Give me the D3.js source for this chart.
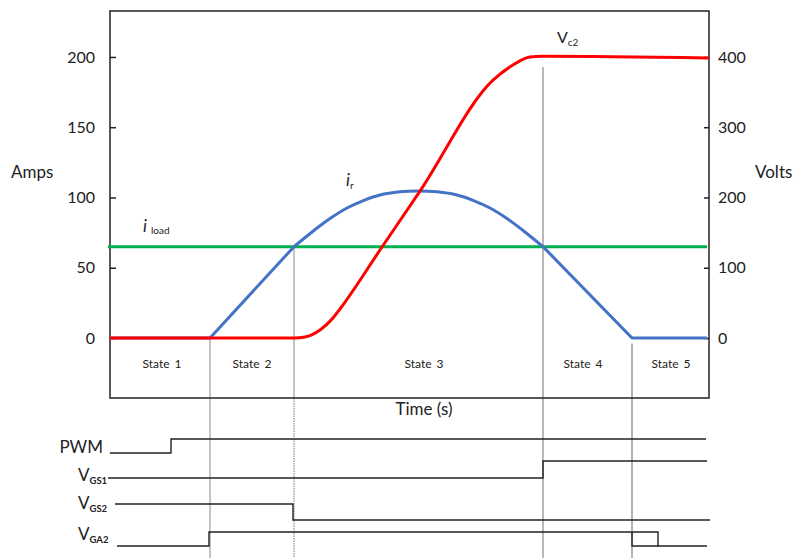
<!DOCTYPE html>
<html>
<head>
<meta charset="utf-8">
<script src="https://cdn.jsdelivr.net/npm/d3@7"></script>
<style>
  body { margin: 0; background: #fff; }
  svg { display: block; }
  text { font-family: Lato, "Open Sans", "Noto Sans", sans-serif; fill: #222; }
</style>
</head>
<body>
<svg id="chart" width="798" height="558"></svg>
<script>
// ---- data ----
const ampTicks = [0, 50, 100, 150, 200];
const voltTicks = [0, 100, 200, 300, 400];
const stateNames = ["State 1", "State 2", "State 3", "State 4", "State 5"];
const stateBounds = [0, 100, 184, 433, 522, 599];   // time of each state edge
const stateCenters = [52, 142, 314, 473, 561];        // where each state name sits

// load current (A)
const iLoad = 65;
const iLoadSpan = [-2, 597];

// resonant current i_r (A): straight ramps and the resonant arc
const irRampUp = [[0, 0], [100, 0], [184, 65]];
const irArc = [[184, 65], [203, 76], [220, 85], [237, 92.5], [254, 98], [270, 101.8],
               [290, 104], [308, 104.6], [327, 104], [347, 101.8], [363, 98],
               [380, 92.5], [397, 85], [414, 76], [433, 65]];
const irRampDown = [[433, 65], [522, 0], [597, 0]];

// capacitor voltage V_c2 (V)
const vc2 = [[0, 0], [184, 0], [195, 1.4], [210, 11.4], [223, 28.5], [230, 41.3],
             [272, 129.5], [310, 209], [383, 367], [403, 388.6], [420, 400],
             [433, 401], [599, 398.6]];

// gate / control signals as [time, level] transitions
const pwm  = [[0, 0], [61, 1], [596, 1]];
const vgs1 = [[-2, 0], [433, 1], [597, 1]];
const vgs2 = [[5, 1], [183, 0], [600, 0]];
const vga2 = [[7, 0], [99, 1], [548, 0], [597, 0]];
const vga2Edge = [[522, 1], [522, 0], [548, 0]];

// ---- layout ----
const svg = d3.select("#chart");
const box = { left: 110, right: 709, top: 11, bottom: 398 };

const x = d3.scaleLinear().domain([0, 599]).range([box.left, box.right]);
const yA = d3.scaleLinear().domain([-42.7, 232.7]).range([box.bottom, box.top]);
const yV = d3.scaleLinear().domain([-85.4, 465.4]).range([box.bottom, box.top]);

// state separators
const guideColor = "#8a8a8a";
svg.append("line")
  .attr("x1", x(stateBounds[1])).attr("x2", x(stateBounds[1]))
  .attr("y1", yA(0)).attr("y2", 558)
  .attr("stroke", guideColor).attr("stroke-width", 1);
svg.append("line")
  .attr("x1", x(stateBounds[2])).attr("x2", x(stateBounds[2]))
  .attr("y1", yA(iLoad)).attr("y2", box.bottom)
  .attr("stroke", guideColor).attr("stroke-width", 1);
svg.append("line")
  .attr("x1", x(stateBounds[2])).attr("x2", x(stateBounds[2]))
  .attr("y1", box.bottom).attr("y2", 558)
  .attr("stroke", "#777").attr("stroke-width", 1)
  .attr("stroke-dasharray", "1.5,1");
svg.append("line")
  .attr("x1", x(stateBounds[3])).attr("x2", x(stateBounds[3]))
  .attr("y1", yV(385)).attr("y2", 558)
  .attr("stroke", "#444").attr("stroke-width", 1.5)
  .attr("stroke-dasharray", "1,1");
svg.append("line")
  .attr("x1", x(stateBounds[4])).attr("x2", x(stateBounds[4]))
  .attr("y1", yA(-4)).attr("y2", 558)
  .attr("stroke", "#a0a0a0").attr("stroke-width", 1.6);

// frame
svg.append("rect")
  .attr("x", box.left).attr("y", box.top)
  .attr("width", box.right - box.left).attr("height", box.bottom - box.top)
  .attr("fill", "none").attr("stroke", "#222").attr("stroke-width", 1.5);

// axes
const leftAxis = d3.axisLeft(yA).tickValues(ampTicks).tickSize(-6).tickPadding(15);
const gL = svg.append("g").attr("transform", `translate(${box.left},0)`).call(leftAxis);
const rightAxis = d3.axisRight(yV).tickValues(voltTicks).tickSize(-5).tickPadding(9);
const gR = svg.append("g").attr("transform", `translate(${box.right},0)`).call(rightAxis);
[gL, gR].forEach(g => {
  g.select(".domain").remove();
  g.selectAll(".tick line").attr("stroke", "#222").attr("stroke-width", 1.5);
  g.selectAll(".tick text").attr("font-size", 16).attr("fill", "#222")
    .style("font-family", "Lato, 'Open Sans', sans-serif");
});

// axis titles
svg.append("text").attr("x", 11).attr("y", 178).attr("font-size", 17).text("Amps");
svg.append("text").attr("x", 755).attr("y", 178).attr("font-size", 17).text("Volts");
svg.append("text").attr("x", 424).attr("y", 415).attr("text-anchor", "middle")
  .attr("font-size", 17).text("Time (s)");

// state labels
svg.selectAll("text.state").data(stateNames).join("text")
  .attr("class", "state")
  .attr("x", (d, i) => x(stateCenters[i]))
  .attr("y", 368)
  .attr("text-anchor", "middle")
  .attr("font-size", 12)
  .attr("word-spacing", 2)
  .text(d => d);

// curves
const lineA = d3.line().x(d => x(d[0])).y(d => yA(d[1]));
const arcA = d3.line().x(d => x(d[0])).y(d => yA(d[1])).curve(d3.curveCatmullRom.alpha(0.5));
const lineV = d3.line().x(d => x(d[0])).y(d => yV(d[1])).curve(d3.curveMonotoneX);

svg.append("line")
  .attr("x1", x(iLoadSpan[0])).attr("x2", x(iLoadSpan[1]))
  .attr("y1", yA(iLoad)).attr("y2", yA(iLoad))
  .attr("stroke", "#00b050").attr("stroke-width", 3);

const blue = "#4472c4";
[irRampUp, irRampDown].forEach(seg => {
  svg.append("path").attr("d", lineA(seg)).attr("fill", "none")
    .attr("stroke", blue).attr("stroke-width", 3).attr("stroke-linejoin", "round");
});
svg.append("path").attr("d", arcA(irArc)).attr("fill", "none")
  .attr("stroke", blue).attr("stroke-width", 3);

svg.append("path").attr("d", lineV(vc2)).attr("fill", "none")
  .attr("stroke", "#ff0000").attr("stroke-width", 3);

// curve labels
const lbl1 = svg.append("text").attr("x", 143).attr("y", 232).attr("font-size", 17);
lbl1.append("tspan").attr("font-style", "italic").text("i");
lbl1.append("tspan").attr("font-size", 10).attr("dx", 4).attr("dy", 2).text("load");

const lbl2 = svg.append("text").attr("x", 346).attr("y", 186).attr("font-size", 17);
lbl2.append("tspan").attr("font-style", "italic").text("i");
lbl2.append("tspan").attr("font-size", 10).attr("dy", 3).text("r");

const lbl3 = svg.append("text").attr("x", 557).attr("y", 43).attr("font-size", 16);
lbl3.append("tspan").text("V");
lbl3.append("tspan").attr("font-size", 10).attr("dy", 3).text("c2");

// timing diagram
const rows = [
  { name: "PWM", sub: null, data: [pwm], low: 453, high: 439, base: 453 },
  { name: "V", sub: "GS1", data: [vgs1], low: 478, high: 461, base: 481 },
  { name: "V", sub: "GS2", data: [vgs2], low: 520, high: 504, base: 509 },
  { name: "V", sub: "GA2", data: [vga2, vga2Edge], low: 546, high: 532, base: 540 }
];

rows.forEach(r => {
  const level = d3.scaleLinear().domain([0, 1]).range([r.low, r.high]);
  const step = d3.line().x(d => x(d[0])).y(d => level(d[1])).curve(d3.curveStepAfter);
  r.data.forEach(seq => {
    svg.append("path").attr("d", step(seq)).attr("fill", "none")
      .attr("stroke", "#222").attr("stroke-width", 1.4);
  });
  if (r.sub) {
    const t = svg.append("text").attr("x", 78).attr("y", r.base).attr("font-size", 17);
    t.append("tspan").text(r.name);
    t.append("tspan").attr("font-size", 9.5).attr("font-weight", "bold").attr("dy", 3).text(r.sub);
  } else {
    svg.append("text").attr("x", 103).attr("y", r.base).attr("text-anchor", "end")
      .attr("font-size", 17).text(r.name);
  }
});
</script>
</body>
</html>
